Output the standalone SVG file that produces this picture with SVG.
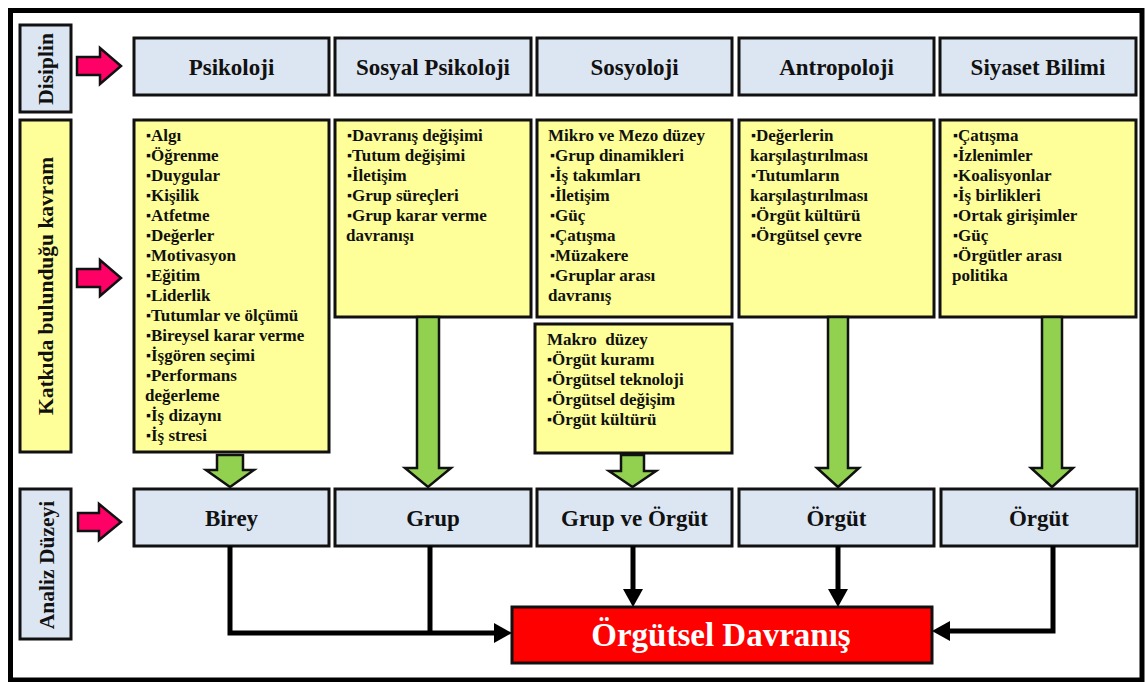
<svg xmlns="http://www.w3.org/2000/svg" width="1145" height="682" viewBox="0 0 1145 682">
<style>
.frame{fill:none;stroke:#000;stroke-width:5}
.blue{fill:#dce6f2;stroke:#111;stroke-width:3}
.yel{fill:#ffff99;stroke:#111;stroke-width:3}
.red{fill:#ff0000;stroke:#111;stroke-width:3}
.hd{font-family:"Liberation Serif","Times New Roman",serif;font-weight:bold;font-size:23px;fill:#111;text-anchor:middle}
.vl{font-family:"Liberation Serif","Times New Roman",serif;font-weight:bold;font-size:21.5px;fill:#111;text-anchor:middle}
.li{font-family:"Liberation Serif","Times New Roman",serif;font-weight:bold;font-size:17px;fill:#111}
.b{font-size:14px}
.big{font-family:"Liberation Serif","Times New Roman",serif;font-weight:bold;font-size:33px;fill:#fff;text-anchor:middle}
.pink{fill:#ff0066;stroke:#111;stroke-width:2.5;stroke-linejoin:miter}
.green{fill:#92d050;stroke:#111;stroke-width:2.5;stroke-linejoin:miter}
.conn{fill:none;stroke:#000;stroke-width:5;stroke-linejoin:miter}
</style>
<defs>
<marker id="ah" viewBox="0 0 18 20" refX="8" refY="10" markerWidth="18" markerHeight="20" markerUnits="userSpaceOnUse" orient="auto">
<path d="M0,0 L18,10 L0,20 z" fill="#000"/>
</marker>
</defs>
<rect class="frame" x="10.5" y="10.5" width="1131.5" height="669.5"/>

<g id="label-disiplin">
<rect class="blue" x="20" y="25" width="51" height="87"/>
<text class="vl" transform="translate(53,69) rotate(-90)">Disiplin</text>
</g>
<g id="label-katki">
<rect class="yel" x="20" y="120" width="51" height="332"/>
<text class="vl" transform="translate(53,286) rotate(-90)">Katkıda bulunduğu kavram</text>
</g>
<g id="label-analiz">
<rect class="blue" x="20" y="489" width="51" height="150"/>
<text class="vl" transform="translate(54,565) rotate(-90)">Analiz Düzeyi</text>
</g>

<g id="d-psikoloji"><rect class="blue" x="134" y="38" width="195" height="57"/><text class="hd" x="231.5" y="75">Psikoloji</text></g>
<g id="d-sosyalpsikoloji"><rect class="blue" x="335" y="38" width="196" height="57"/><text class="hd" x="433" y="75">Sosyal Psikoloji</text></g>
<g id="d-sosyoloji"><rect class="blue" x="537" y="38" width="195" height="57"/><text class="hd" x="634.5" y="75">Sosyoloji</text></g>
<g id="d-antropoloji"><rect class="blue" x="739" y="38" width="195" height="57"/><text class="hd" x="836.5" y="75">Antropoloji</text></g>
<g id="d-siyaset"><rect class="blue" x="940" y="38" width="196" height="57"/><text class="hd" x="1038" y="75">Siyaset Bilimi</text></g>

<g id="k-psikoloji">
<rect class="yel" x="134" y="120" width="195" height="332"/>
<text class="li" x="146" y="141"><tspan class="b" dy="-1">▪</tspan><tspan dy="1">Algı</tspan></text>
<text class="li" x="146" y="161"><tspan class="b" dy="-1">▪</tspan><tspan dy="1">Öğrenme</tspan></text>
<text class="li" x="146" y="181"><tspan class="b" dy="-1">▪</tspan><tspan dy="1">Duygular</tspan></text>
<text class="li" x="146" y="201"><tspan class="b" dy="-1">▪</tspan><tspan dy="1">Kişilik</tspan></text>
<text class="li" x="146" y="221"><tspan class="b" dy="-1">▪</tspan><tspan dy="1">Atfetme</tspan></text>
<text class="li" x="146" y="241"><tspan class="b" dy="-1">▪</tspan><tspan dy="1">Değerler</tspan></text>
<text class="li" x="146" y="261"><tspan class="b" dy="-1">▪</tspan><tspan dy="1">Motivasyon</tspan></text>
<text class="li" x="146" y="281"><tspan class="b" dy="-1">▪</tspan><tspan dy="1">Eğitim</tspan></text>
<text class="li" x="146" y="301"><tspan class="b" dy="-1">▪</tspan><tspan dy="1">Liderlik</tspan></text>
<text class="li" x="146" y="321"><tspan class="b" dy="-1">▪</tspan><tspan dy="1">Tutumlar ve ölçümü</tspan></text>
<text class="li" x="146" y="341"><tspan class="b" dy="-1">▪</tspan><tspan dy="1">Bireysel karar verme</tspan></text>
<text class="li" x="146" y="361"><tspan class="b" dy="-1">▪</tspan><tspan dy="1">İşgören seçimi</tspan></text>
<text class="li" x="146" y="381"><tspan class="b" dy="-1">▪</tspan><tspan dy="1">Performans</tspan></text>
<text class="li" x="145" y="401">değerleme</text>
<text class="li" x="146" y="421"><tspan class="b" dy="-1">▪</tspan><tspan dy="1">İş dizaynı</tspan></text>
<text class="li" x="146" y="441"><tspan class="b" dy="-1">▪</tspan><tspan dy="1">İş stresi</tspan></text>
</g>

<g id="k-sosyalpsikoloji">
<rect class="yel" x="335" y="120" width="196" height="197"/>
<text class="li" x="347" y="141"><tspan class="b" dy="-1">▪</tspan><tspan dy="1">Davranış değişimi</tspan></text>
<text class="li" x="347" y="161"><tspan class="b" dy="-1">▪</tspan><tspan dy="1">Tutum değişimi</tspan></text>
<text class="li" x="347" y="181"><tspan class="b" dy="-1">▪</tspan><tspan dy="1">İletişim</tspan></text>
<text class="li" x="347" y="201"><tspan class="b" dy="-1">▪</tspan><tspan dy="1">Grup süreçleri</tspan></text>
<text class="li" x="347" y="221"><tspan class="b" dy="-1">▪</tspan><tspan dy="1">Grup karar verme</tspan></text>
<text class="li" x="346" y="241">davranışı</text>
</g>

<g id="k-sosyoloji-mikro">
<rect class="yel" x="537" y="120" width="195" height="197"/>
<text class="li" x="548" y="141">Mikro ve Mezo düzey</text>
<text class="li" x="550" y="161"><tspan class="b" dy="-1">▪</tspan><tspan dy="1">Grup dinamikleri</tspan></text>
<text class="li" x="550" y="181"><tspan class="b" dy="-1">▪</tspan><tspan dy="1">İş takımları</tspan></text>
<text class="li" x="550" y="201"><tspan class="b" dy="-1">▪</tspan><tspan dy="1">İletişim</tspan></text>
<text class="li" x="550" y="221"><tspan class="b" dy="-1">▪</tspan><tspan dy="1">Güç</tspan></text>
<text class="li" x="550" y="241"><tspan class="b" dy="-1">▪</tspan><tspan dy="1">Çatışma</tspan></text>
<text class="li" x="550" y="261"><tspan class="b" dy="-1">▪</tspan><tspan dy="1">Müzakere</tspan></text>
<text class="li" x="550" y="281"><tspan class="b" dy="-1">▪</tspan><tspan dy="1">Gruplar arası</tspan></text>
<text class="li" x="548" y="301">davranış</text>
</g>

<g id="k-sosyoloji-makro">
<rect class="yel" x="535" y="324" width="197" height="129"/>
<text class="li" x="547" y="345" xml:space="preserve">Makro  düzey</text>
<text class="li" x="547" y="365"><tspan class="b" dy="-1">▪</tspan><tspan dy="1">Örgüt kuramı</tspan></text>
<text class="li" x="547" y="385"><tspan class="b" dy="-1">▪</tspan><tspan dy="1">Örgütsel teknoloji</tspan></text>
<text class="li" x="547" y="405"><tspan class="b" dy="-1">▪</tspan><tspan dy="1">Örgütsel değişim</tspan></text>
<text class="li" x="547" y="425"><tspan class="b" dy="-1">▪</tspan><tspan dy="1">Örgüt kültürü</tspan></text>
</g>

<g id="k-antropoloji">
<rect class="yel" x="739" y="120" width="195" height="197"/>
<text class="li" x="751" y="141"><tspan class="b" dy="-1">▪</tspan><tspan dy="1">Değerlerin</tspan></text>
<text class="li" x="750" y="161">karşılaştırılması</text>
<text class="li" x="751" y="181"><tspan class="b" dy="-1">▪</tspan><tspan dy="1">Tutumların</tspan></text>
<text class="li" x="750" y="201">karşılaştırılması</text>
<text class="li" x="751" y="221"><tspan class="b" dy="-1">▪</tspan><tspan dy="1">Örgüt kültürü</tspan></text>
<text class="li" x="751" y="241"><tspan class="b" dy="-1">▪</tspan><tspan dy="1">Örgütsel çevre</tspan></text>
</g>

<g id="k-siyaset">
<rect class="yel" x="940" y="120" width="196" height="197"/>
<text class="li" x="953" y="141"><tspan class="b" dy="-1">▪</tspan><tspan dy="1">Çatışma</tspan></text>
<text class="li" x="953" y="161"><tspan class="b" dy="-1">▪</tspan><tspan dy="1">İzlenimler</tspan></text>
<text class="li" x="953" y="181"><tspan class="b" dy="-1">▪</tspan><tspan dy="1">Koalisyonlar</tspan></text>
<text class="li" x="953" y="201"><tspan class="b" dy="-1">▪</tspan><tspan dy="1">İş birlikleri</tspan></text>
<text class="li" x="953" y="221"><tspan class="b" dy="-1">▪</tspan><tspan dy="1">Ortak girişimler</tspan></text>
<text class="li" x="953" y="241"><tspan class="b" dy="-1">▪</tspan><tspan dy="1">Güç</tspan></text>
<text class="li" x="953" y="261"><tspan class="b" dy="-1">▪</tspan><tspan dy="1">Örgütler arası</tspan></text>
<text class="li" x="952" y="281">politika</text>
</g>

<g id="a-birey"><rect class="blue" x="134" y="489" width="195" height="57"/><text class="hd" x="231.5" y="526">Birey</text></g>
<g id="a-grup"><rect class="blue" x="335" y="489" width="196" height="57"/><text class="hd" x="433" y="526">Grup</text></g>
<g id="a-grupveorgut"><rect class="blue" x="537" y="489" width="195" height="57"/><text class="hd" x="634.5" y="526">Grup ve Örgüt</text></g>
<g id="a-orgut1"><rect class="blue" x="739" y="489" width="195" height="57"/><text class="hd" x="836.5" y="526">Örgüt</text></g>
<g id="a-orgut2"><rect class="blue" x="941" y="489" width="196" height="57"/><text class="hd" x="1039" y="526">Örgüt</text></g>

<g id="orgutsel-davranis">
<rect class="red" x="512" y="607" width="420" height="56"/>
<text class="big" x="721" y="646">Örgütsel Davranış</text>
</g>

<g id="connectors">
<path class="pink" d="M77,57 H100 V48 L121,66 L100,84 V75 H77 Z"/>
<path class="pink" d="M77,269 H100 V260 L121,278 L100,296 V287 H77 Z"/>
<path class="pink" d="M78,513 H99 V504 L121,522 L99,540 V531 H78 Z"/>

<path class="green" d="M217,455 H243 V470 H254 L230,487 L206,470 H217 Z"/>
<path class="green" d="M417,317 H439 V468 H451 L428,487 L405,468 H417 Z"/>
<path class="green" d="M621,455 H644 V471 H656 L632.5,487 L609,471 H621 Z"/>
<path class="green" d="M828,317 H848 V468 H859 L838,487 L817,468 H828 Z"/>
<path class="green" d="M1042,317 H1062 V468 H1073 L1052,487 L1031,468 H1042 Z"/>

<path class="conn" d="M230,546 V633 H502" marker-end="url(#ah)"/>
<path class="conn" d="M430,546 V633"/>
<path class="conn" d="M633,546 V597" marker-end="url(#ah)"/>
<path class="conn" d="M838,546 V597" marker-end="url(#ah)"/>
<path class="conn" d="M1053,546 V631 H942" marker-end="url(#ah)"/>
</g>
</svg>
